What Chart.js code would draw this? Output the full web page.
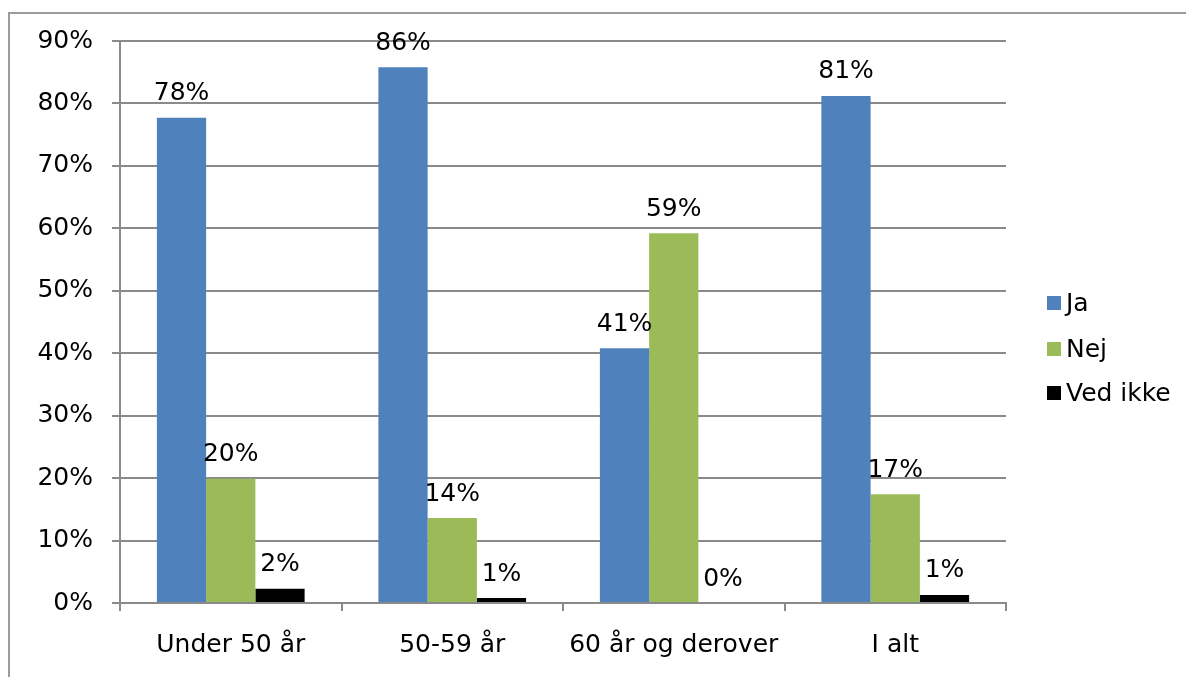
<!DOCTYPE html>
<html>
<head>
<meta charset="utf-8">
<script src="https://cdn.jsdelivr.net/npm/chart.js@4.4.1/dist/chart.umd.min.js"></script>
<style>
html,body{margin:0;padding:0;background:#fff;overflow:hidden;}
canvas{display:block;}
</style>
</head>
<body>
<canvas id="c" width="1186" height="677"></canvas>
<script>
const categories = ["Under 50 år", "50-59 år", "60 år og derover", "I alt"];
const seriesNames = ["Ja", "Nej", "Ved ikke"];
const jaValues = [77.7, 85.8, 40.8, 81.2];
const nejValues = [19.9, 13.6, 59.2, 17.4];
const vedIkkeValues = [2.3, 0.8, 0, 1.3];
const jaLabels = ["78%", "86%", "41%", "81%"];
const nejLabels = ["20%", "14%", "59%", "17%"];
const vedIkkeLabels = ["2%", "1%", "0%", "1%"];
const yTicks = [0, 10, 20, 30, 40, 50, 60, 70, 80, 90];

const FONT = "DejaVu Sans, Verdana, sans-serif";
const FS = 25;
const GRID = "#8a8a8a";

const frame = {
  id: "frame",
  beforeDraw(chart) {
    const ctx = chart.ctx;
    ctx.save();
    ctx.fillStyle = "#fff";
    ctx.fillRect(0, 0, chart.width, chart.height);
    ctx.strokeStyle = "#9c9c9c";
    ctx.lineWidth = 2;
    ctx.strokeRect(9, 13, chart.width + 20, chart.height + 20);
    ctx.restore();
  }
};

const valueLabels = {
  id: "valueLabels",
  afterDatasetsDraw(chart) {
    const ctx = chart.ctx;
    const all = [jaLabels, nejLabels, vedIkkeLabels];
    ctx.save();
    ctx.font = FS + "px " + FONT;
    ctx.fillStyle = "#000";
    ctx.textAlign = "center";
    ctx.textBaseline = "middle";
    chart.data.datasets.forEach((ds, i) => {
      const meta = chart.getDatasetMeta(i);
      meta.data.forEach((bar, j) => {
        ctx.fillText(all[i][j], bar.x, bar.y - 24);
      });
    });
    ctx.restore();
  }
};

const sideLegend = {
  id: "sideLegend",
  afterDraw(chart) {
    const ctx = chart.ctx;
    const ys = [303, 349, 393];
    ctx.save();
    ctx.font = FS + "px " + FONT;
    ctx.textBaseline = "middle";
    ctx.textAlign = "left";
    chart.data.datasets.forEach((ds, i) => {
      ctx.fillStyle = ds.backgroundColor;
      ctx.fillRect(1047, ys[i] - 7, 14, 14);
      ctx.fillStyle = "#000";
      ctx.fillText(ds.label, 1066, ys[i] + 1);
    });
    ctx.restore();
  }
};

new Chart(document.getElementById("c"), {
  type: "bar",
  data: {
    labels: categories,
    datasets: [
      { label: seriesNames[0], data: jaValues, backgroundColor: "#4F81BD" },
      { label: seriesNames[1], data: nejValues, backgroundColor: "#9BBB59" },
      { label: seriesNames[2], data: vedIkkeValues, backgroundColor: "#000000" }
    ]
  },
  options: {
    responsive: false,
    animation: false,
    devicePixelRatio: 1,
    categoryPercentage: 0.667,
    barPercentage: 1,
    layout: { padding: { left: 0, top: 41, right: 180, bottom: 0 } },
    plugins: { legend: { display: false }, tooltip: { enabled: false }, title: { display: false } },
    scales: {
      x: {
        grid: { drawOnChartArea: false, offset: true, color: GRID, tickLength: 8, lineWidth: 2 },
        border: { color: GRID, width: 2 },
        ticks: { font: { family: FONT, size: FS }, color: "#000", padding: 19, maxRotation: 0 },
        afterFit(s) { s.height = 74; }
      },
      y: {
        min: 0, max: 90,
        afterBuildTicks(s) { s.ticks = yTicks.map(v => ({ value: v })); },
        grid: { color: GRID, tickLength: 8, lineWidth: 2 },
        border: { color: GRID, width: 2 },
        ticks: { font: { family: FONT, size: FS }, color: "#000", padding: 19, callback: v => v + "%" },
        afterFit(s) { s.width = 120; }
      }
    }
  },
  plugins: [frame, valueLabels, sideLegend]
});
</script>
</body>
</html>
